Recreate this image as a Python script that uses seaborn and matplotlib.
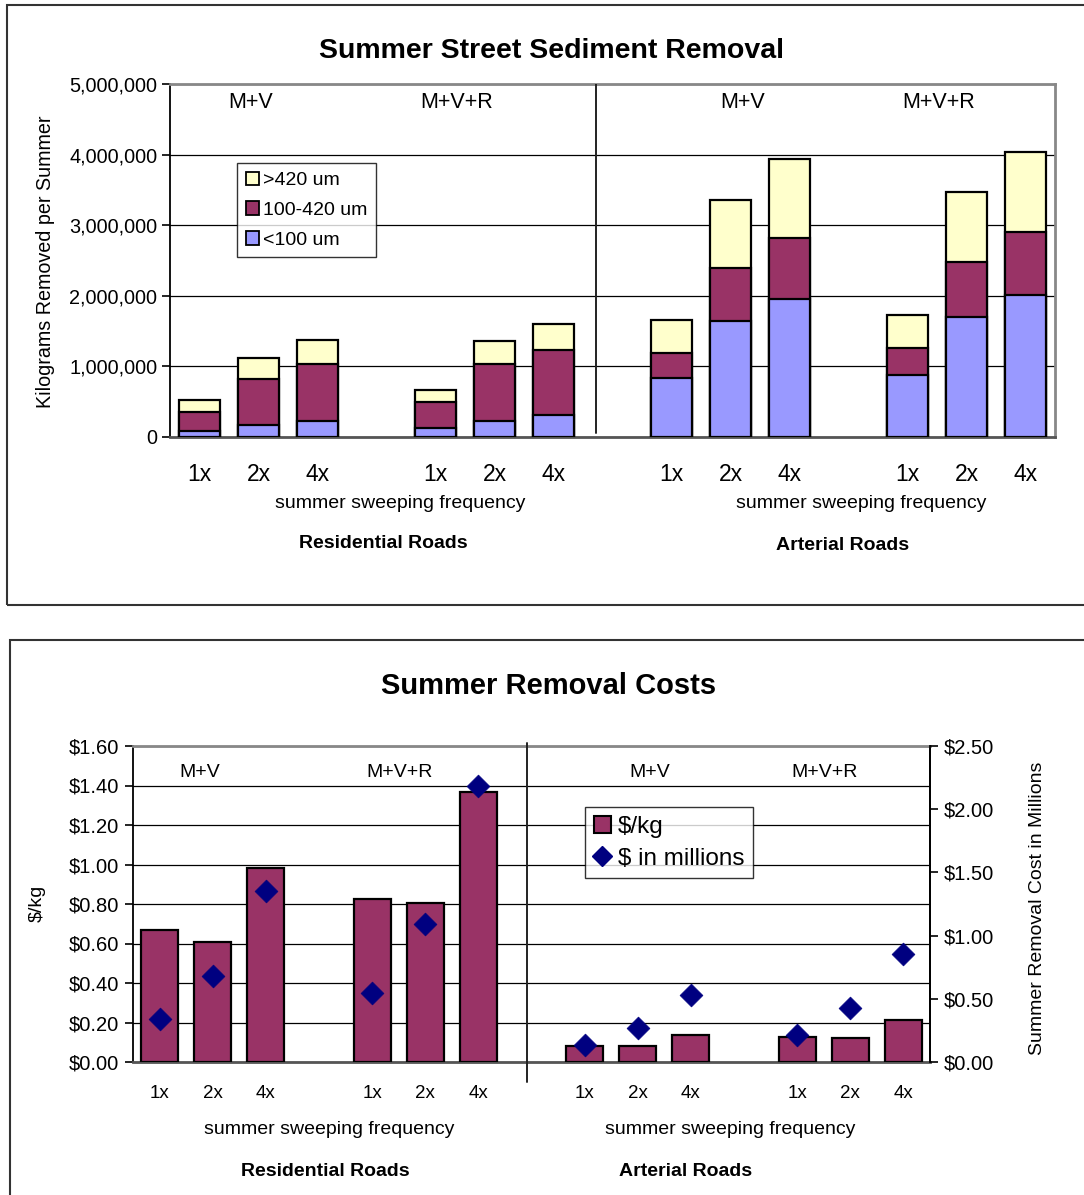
import numpy as np
import pandas as pd
import matplotlib
matplotlib.use("Agg")
import matplotlib.pyplot as plt
import seaborn as sns
from matplotlib.patches import Patch, Rectangle
from matplotlib.lines import Line2D
from matplotlib.ticker import FuncFormatter, MultipleLocator

# ---------------- data ----------------
frequency = ["1x", "2x", "4x", "1x", "2x", "4x", "1x", "2x", "4x", "1x", "2x", "4x"]
road_type = ["Residential"] * 6 + ["Arterial"] * 6
method = ["M+V"] * 3 + ["M+V+R"] * 3 + ["M+V"] * 3 + ["M+V+R"] * 3
slot = [0, 1, 2, 4, 5, 6, 8, 9, 10, 12, 13, 14]  # category slots (blank slot between groups)

fine_kg = [85000, 165000, 230000, 130000, 230000, 310000,
           840000, 1640000, 1960000, 875000, 1700000, 2010000]          # <100 um
medium_kg = [275000, 655000, 800000, 370000, 810000, 920000,
             356000, 750000, 860000, 385000, 780000, 890000]           # 100-420 um
coarse_kg = [160000, 300000, 350000, 165000, 320000, 370000,
             464000, 970000, 1120000, 470000, 990000, 1140000]         # >420 um

cost_per_kg = [0.668, 0.608, 0.982, 0.825, 0.806, 1.366,
               0.083, 0.083, 0.138, 0.127, 0.122, 0.211]
cost_millions = [0.343, 0.68, 1.355, 0.543, 1.092, 2.18,
                 0.132, 0.269, 0.533, 0.216, 0.427, 0.852]

group_labels = ["M+V", "M+V+R", "M+V", "M+V+R"]
road_labels = ["Residential Roads", "Arterial Roads"]

df = pd.DataFrame({
    "slot": slot, "freq": frequency, "road": road_type, "method": method,
    "fine": fine_kg, "medium": medium_kg, "coarse": coarse_kg,
    "per_kg": cost_per_kg, "millions": cost_millions,
})
df["fine_medium"] = df["fine"] + df["medium"]
df["total"] = df["fine_medium"] + df["coarse"]

# ---------------- style ----------------
sns.set_theme(style="white")
plt.rcParams["font.family"] = ["Liberation Sans", "DejaVu Sans"]
plt.rcParams["axes.unicode_minus"] = False
for k in ["text.color", "axes.labelcolor", "xtick.color", "ytick.color", "axes.edgecolor"]:
    plt.rcParams[k] = "black"

YELLOW = "#FFFFCC"
PURPLE = "#993366"
BLUE = "#9999FF"
NAVY = "#000080"

W, H = 1084, 1195
fig = plt.figure(figsize=(W / 100, H / 100), dpi=100)

def fx(px):
    return px / W

def fy(py):
    return 1 - py / H

# panel borders
fig.patches.append(Rectangle((fx(7), fy(605)), fx(1100), fy(5) - fy(605),
                             transform=fig.transFigure, fill=False,
                             edgecolor="#333333", linewidth=1.5, zorder=0))
fig.patches.append(Rectangle((fx(10), fy(1210)), fx(1100), fy(640) - fy(1210),
                             transform=fig.transFigure, fill=False,
                             edgecolor="#333333", linewidth=1.5, zorder=0))

# ================= TOP CHART =================
ax1 = fig.add_axes([fx(170), fy(437), fx(1055) - fx(170), fy(84) - fy(437)])
bw = 0.68
for col, colr in [("total", YELLOW), ("fine_medium", PURPLE), ("fine", BLUE)]:
    sns.barplot(data=df, x="slot", y=col, native_scale=True, width=bw,
                color=colr, edgecolor="black", linewidth=1.6, saturation=1,
                ax=ax1, errorbar=None, zorder=3)

ax1.set_xlim(-0.5, 14.5)
ax1.set_ylim(0, 5_000_000)
ax1.yaxis.set_major_locator(MultipleLocator(1_000_000))
ax1.yaxis.set_major_formatter(FuncFormatter(lambda v, p: f"{int(v):,}"))
ax1.grid(axis="y", color="black", linewidth=0.9, zorder=0)
ax1.set_axisbelow(True)
ax1.set_xlabel("")
ax1.set_ylabel("")
ax1.set_xticks(slot)
ax1.set_xticklabels(frequency, fontsize=16.5)
ax1.set_xticks(np.arange(-0.5, 15, 1), minor=True)
ax1.tick_params(axis="x", which="major", length=0, pad=19)
ax1.tick_params(axis="x", which="minor", length=7, width=1.2, color="black", direction="out")
ax1.tick_params(axis="y", which="major", length=6, width=1.2, color="black",
                direction="out", labelsize=14.3, pad=3, left=True)
for s in ["left", "bottom"]:
    ax1.spines[s].set_color("black")
    ax1.spines[s].set_linewidth(1.3)
for s in ["top", "right"]:
    ax1.spines[s].set_color("#888888")
    ax1.spines[s].set_linewidth(2)
ax1.spines["bottom"].set_color("#555555")
ax1.spines["bottom"].set_linewidth(2)

# divider
ax1.plot([6.72, 6.72], [0.012, 1.0], transform=ax1.get_xaxis_transform(),
         color="#222222", linewidth=1.4, zorder=4)

for xpos, lab in zip([0.86, 4.35, 9.21, 12.53], group_labels):
    ax1.text(xpos, 0.948, lab, transform=ax1.get_xaxis_transform(),
             ha="center", va="center", fontsize=15.5)

leg1 = ax1.legend(handles=[Patch(facecolor=YELLOW, edgecolor="black", linewidth=1.3, label=">420 um"),
                           Patch(facecolor=PURPLE, edgecolor="black", linewidth=1.3, label="100-420 um"),
                           Patch(facecolor=BLUE, edgecolor="black", linewidth=1.3, label="<100 um")],
                  loc="upper left", bbox_to_anchor=((237 - 170) / 885, (437 - 163) / 353),
                  borderaxespad=0, fontsize=14, frameon=True, fancybox=False,
                  edgecolor="black", handlelength=0.7, handleheight=0.7,
                  handletextpad=0.2, labelspacing=0.62, borderpad=0.45)
leg1.get_frame().set_linewidth(1.0)
leg1.set_zorder(6)

fig.text(fx(551), fy(51), "Summer Street Sediment Removal", ha="center", va="center",
         fontsize=20.5, fontweight="bold")
fig.text(fx(46), fy(262), "Kilograms Removed per Summer", rotation=90,
         ha="center", va="center", fontsize=14.2)
fig.text(fx(400), fy(503), "summer sweeping frequency", ha="center", va="center", fontsize=14)
fig.text(fx(861), fy(503), "summer sweeping frequency", ha="center", va="center", fontsize=14)
fig.text(fx(383), fy(543), road_labels[0], ha="center", va="center", fontsize=14, fontweight="bold")
fig.text(fx(843), fy(546), road_labels[1], ha="center", va="center", fontsize=14, fontweight="bold")

# ================= BOTTOM CHART =================
ax2 = fig.add_axes([fx(133), fy(1062), fx(930) - fx(133), fy(746) - fy(1062)])
sns.barplot(data=df, x="slot", y="per_kg", native_scale=True, width=0.7,
            color=PURPLE, edgecolor="black", linewidth=1.6, saturation=1,
            ax=ax2, errorbar=None, zorder=3)
ax2.set_xlim(-0.5, 14.5)
ax2.set_ylim(0, 1.6)
ax2.yaxis.set_major_locator(MultipleLocator(0.2))
ax2.yaxis.set_major_formatter(FuncFormatter(lambda v, p: f"${v:.2f}"))
ax2.grid(axis="y", color="black", linewidth=0.9, zorder=0)
ax2.set_axisbelow(True)
ax2.set_xlabel("")
ax2.set_ylabel("")
ax2.set_xticks(slot)
ax2.set_xticklabels(frequency, fontsize=13.5)
ax2.set_xticks(np.arange(-0.5, 15, 1), minor=True)
ax2.tick_params(axis="x", which="major", length=0, pad=16.5)
ax2.tick_params(axis="x", which="minor", length=7, width=1.2, color="black", direction="out")
ax2.tick_params(axis="y", which="major", length=6, width=1.2, color="black",
                direction="out", labelsize=14.5, pad=4, left=True)
for s in ["left", "bottom", "right"]:
    ax2.spines[s].set_color("black")
    ax2.spines[s].set_linewidth(1.3)
ax2.spines["top"].set_color("#888888")
ax2.spines["top"].set_linewidth(2)
ax2.spines["bottom"].set_color("#555555")
ax2.spines["bottom"].set_linewidth(2)

ax3 = ax2.twinx()
sns.scatterplot(data=df, x="slot", y="millions", marker="D", s=135, color=NAVY,
                edgecolor=NAVY, linewidth=0.5, ax=ax3, zorder=5, legend=False)
ax3.set_xlim(-0.5, 14.5)
ax3.set_ylim(0, 2.5)
ax3.yaxis.set_major_locator(MultipleLocator(0.5))
ax3.yaxis.set_major_formatter(FuncFormatter(lambda v, p: f"${v:.2f}"))
ax3.set_ylabel("")
ax3.tick_params(axis="y", which="major", length=6, width=1.2, color="black",
                direction="out", labelsize=14.5, pad=4, right=True)
for s in ["left", "top", "bottom"]:
    ax3.spines[s].set_visible(False)
ax3.spines["right"].set_color("black")
ax3.spines["right"].set_linewidth(1.3)
ax3.grid(False)

ax2.plot([6.92, 6.92], [-0.063, 1.01], transform=ax2.get_xaxis_transform(),
         color="#222222", linewidth=1.4, zorder=4, clip_on=False)

for xpos, lab in zip([0.76, 4.51, 9.22, 12.51], group_labels):
    ax2.text(xpos, 0.917, lab, transform=ax2.get_xaxis_transform(),
             ha="center", va="center", fontsize=14)

leg2 = ax3.legend(handles=[Patch(facecolor=PURPLE, edgecolor="black", linewidth=1.5, label="$/kg"),
                           Line2D([], [], marker="D", linestyle="none", color=NAVY,
                                  markersize=10, label="$ in millions")],
                  loc="upper left", bbox_to_anchor=((585 - 133) / 797, (1062 - 807) / 316),
                  borderaxespad=0, fontsize=17.5, frameon=True, fancybox=False,
                  edgecolor="black", handlelength=0.7, handleheight=0.7,
                  handletextpad=0.3, labelspacing=0.42, borderpad=0.35)
leg2.get_frame().set_linewidth(1.0)

fig.text(fx(549), fy(686), "Summer Removal Costs", ha="center", va="center",
         fontsize=21, fontweight="bold")
fig.text(fx(37), fy(903), "$/kg", rotation=90, ha="center", va="center", fontsize=14)
fig.text(fx(1037), fy(908), "Summer Removal Cost in Millions", rotation=90,
         ha="center", va="center", fontsize=14)
fig.text(fx(329), fy(1129), "summer sweeping frequency", ha="center", va="center", fontsize=14)
fig.text(fx(730), fy(1129), "summer sweeping frequency", ha="center", va="center", fontsize=14)
fig.text(fx(325), fy(1172), road_labels[0], ha="center", va="center", fontsize=14, fontweight="bold")
fig.text(fx(686), fy(1172), road_labels[1], ha="center", va="center", fontsize=14, fontweight="bold")

fig.savefig("out.png", dpi=100)
